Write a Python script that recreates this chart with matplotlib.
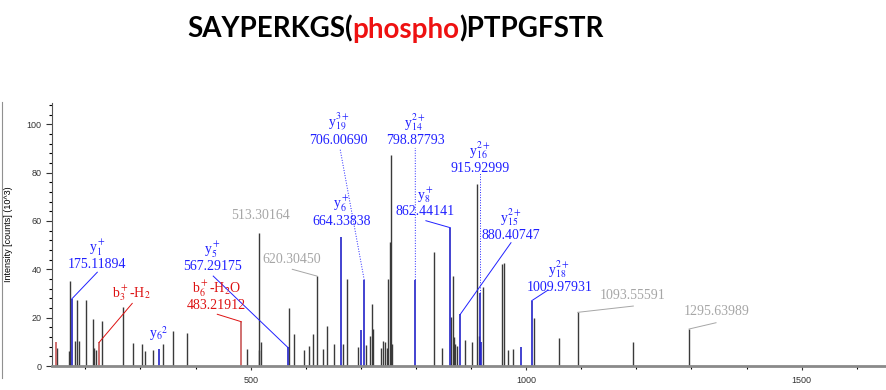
import matplotlib
matplotlib.use("Agg")
import matplotlib.pyplot as plt

plt.rcParams['mathtext.fontset'] = 'stix'

# unlabelled peaks (m/z, intensity x10^3)
black_mz = [148, 170, 172, 181.7, 185, 188, 200.5, 213.8, 216, 220, 231, 268.8, 286.4, 302, 308,
            322, 340, 358.4, 385, 493, 514.5, 515.6, 519, 570, 578.6, 597, 606, 612.5, 620.3,
            630.7, 638, 651, 667, 674, 694.7, 709, 716, 720, 722, 736.5, 740.7, 744, 747, 749.7,
            752.8, 754.6, 757, 832, 847.8, 864, 866.6, 869, 871, 874, 889.5, 901, 910, 914, 921.6,
            956.6, 959.7, 966.4, 976.6, 1014.7, 1060, 1093.4, 1194.4, 1295.6]
black_int = [7.3, 6.2, 35.3, 10.3, 27.3, 10.5, 27.2, 19.4, 7.3, 6.6, 18.6, 24.5, 9.4, 9.1, 6.3,
             6.6, 8.9, 14.3, 13.5, 7.0, 54.9, 6.8, 9.9, 23.9, 13.1, 6.6, 8.4, 13.1, 37.2,
             7.0, 16.5, 9.0, 9.0, 36.0, 7.7, 8.6, 12.4, 25.7, 15.5, 7.3, 10.5, 9.8, 7.3, 36.0,
             51.4, 87.3, 9.0, 47.3, 7.3, 20.4, 37.2, 12.1, 9.0, 8.4, 10.8, 9.8, 75.2, 12.6, 32.6,
             42.0, 42.8, 6.6, 7.0, 20.0, 11.6, 22.2, 10.0, 15.3]

# matched fragment peaks
blue_mz = [175.12, 333.6, 567.29, 664.34, 700.8, 706.01, 798.88, 862.44, 880.41, 915.93, 917.6, 990.5, 1009.98]
blue_int = [27.7, 6.9, 7.7, 53.5, 14.9, 35.6, 35.6, 57.2, 21.4, 30.0, 10.0, 8.0, 27.0]
red_mz = [146, 225, 483.22]
red_int = [10.0, 9.8, 18.3]

title_parts = ["SAYPERKGS(", "phospho", ")PTPGFSTR"]
title_colors = ["black", "#ee1111", "black"]

fig = plt.figure(figsize=(8.86, 3.9), dpi=100)
ax = fig.add_axes([52 / 886, 24 / 390, 834 / 886, 263 / 390])

ax.vlines(black_mz, 0, black_int, color="#3a3a3a", lw=1.0)
ax.vlines(blue_mz, 0, blue_int, color="#2222c8", lw=1.2)
ax.vlines(red_mz, 0, red_int, color="#c85858", lw=1.2)

blue = "#2020ff"
red = "#dd1111"
gray = "#a6a6a6"
serif = "Liberation Serif"


def label(x, y, s, color):
    ax.text(x, y, s, color=color, fontsize=10, family=serif, ha="center", va="center",
            linespacing=1.05)


def leader(x0, y0, x1, y1, color, ls="-"):
    ax.plot([x0, x1], [y0, y1], color=color, lw=0.7, ls=ls)


label(221, 46.3, "y$_1^+$\n175.11894", blue)
leader(175.12, 27.7, 221.6, 38.8, blue)

label(284, 30.1, "b$_3^+$-H$_2$", red)
leader(225, 9.8, 285, 25.9, red)

label(332.3, 13.5, "y$_6$$^2$", blue)

label(438.3, 29.3, "b$_6^+$-H$_2$O\n483.21912", red)
leader(483.22, 18.3, 439.4, 21.4, red)

label(431.2, 45.4, "y$_5^+$\n567.29175", blue)
leader(567.29, 7.7, 432, 37.2, blue)

label(516.9, 62.2, "513.30164", gray)

label(574.4, 44.1, "620.30450", gray)
leader(620.3, 37.2, 575.5, 40, gray)

label(665.2, 64.2, "y$_6^+$\n664.33838", blue)

label(659, 98, "y$_{19}^{3+}$\n706.00690", blue)
leader(706.01, 35.6, 662, 90.1, blue, ":")

label(798.2, 98, "y$_{14}^{2+}$\n798.87793", blue)
leader(798.88, 35.6, 798.7, 90.2, blue, ":")

label(816.3, 68, "y$_8^+$\n862.44141", blue)
leader(862.44, 57.2, 818, 60.1, blue)

label(916.2, 86.4, "y$_{16}^{2+}$\n915.92999", blue)
leader(915.93, 30, 915.93, 80.3, blue, ":")

label(972.4, 58.8, "y$_{15}^{2+}$\n880.40747", blue)
leader(880.41, 21.4, 972.4, 51, blue)

label(1060, 37.3, "y$_{18}^{2+}$\n1009.97931", blue)
leader(1009.98, 27, 1039.5, 31.4, blue)

label(1193.3, 29.1, "1093.55591", gray)
leader(1093.4, 22.2, 1194.4, 24.8, gray)

label(1345.7, 22.5, "1295.63989", gray)
leader(1295.6, 15.3, 1344.5, 17.9, gray)

ax.set_xlim(139.4, 1653)
ax.set_ylim(0, 108.8)
ax.set_xticks([500, 1000, 1500])
ax.set_xticks(range(200, 1700, 100), minor=True)
ax.set_yticks(range(0, 101, 20))
ax.set_yticks(range(0, 109, 4), minor=True)
ax.tick_params(axis="both", labelsize=6.5, colors="#333333", length=4, width=0.8)
ax.tick_params(axis="both", which="minor", length=2.5, width=0.8)
ax.tick_params(axis="x", length=3, pad=4)
for lab in ax.get_xticklabels() + ax.get_yticklabels():
    lab.set_family("Liberation Sans")

for s in ["top", "right"]:
    ax.spines[s].set_visible(False)
ax.spines["bottom"].set_color("#8a8a8a")
ax.spines["bottom"].set_linewidth(2)
ax.spines["left"].set_color("#555555")
ax.spines["left"].set_linewidth(0.8)

ax.set_ylabel("Intensity [counts] (10^3)", fontsize=6.5, family="Liberation Sans", labelpad=10)

# border line on the left of the screenshot
fig.add_artist(plt.Line2D([1.5 / 886, 1.5 / 886], [12 / 390, 288 / 390], color="#909090", lw=0.8))

# title, coloured in parts, each piece placed right after the previous one
t = fig.text(187 / 886, 1 - 29 / 390, title_parts[0], fontsize=20, weight="bold",
             family="Lato", color=title_colors[0], va="center", ha="left")
for part, col in zip(title_parts[1:], title_colors[1:]):
    t = ax.annotate(part, xy=(1, 0), xycoords=t, fontsize=20, weight="bold", family="Lato",
                    color=col, va="bottom", ha="left", annotation_clip=False)

fig.savefig("out.png", dpi=100)
